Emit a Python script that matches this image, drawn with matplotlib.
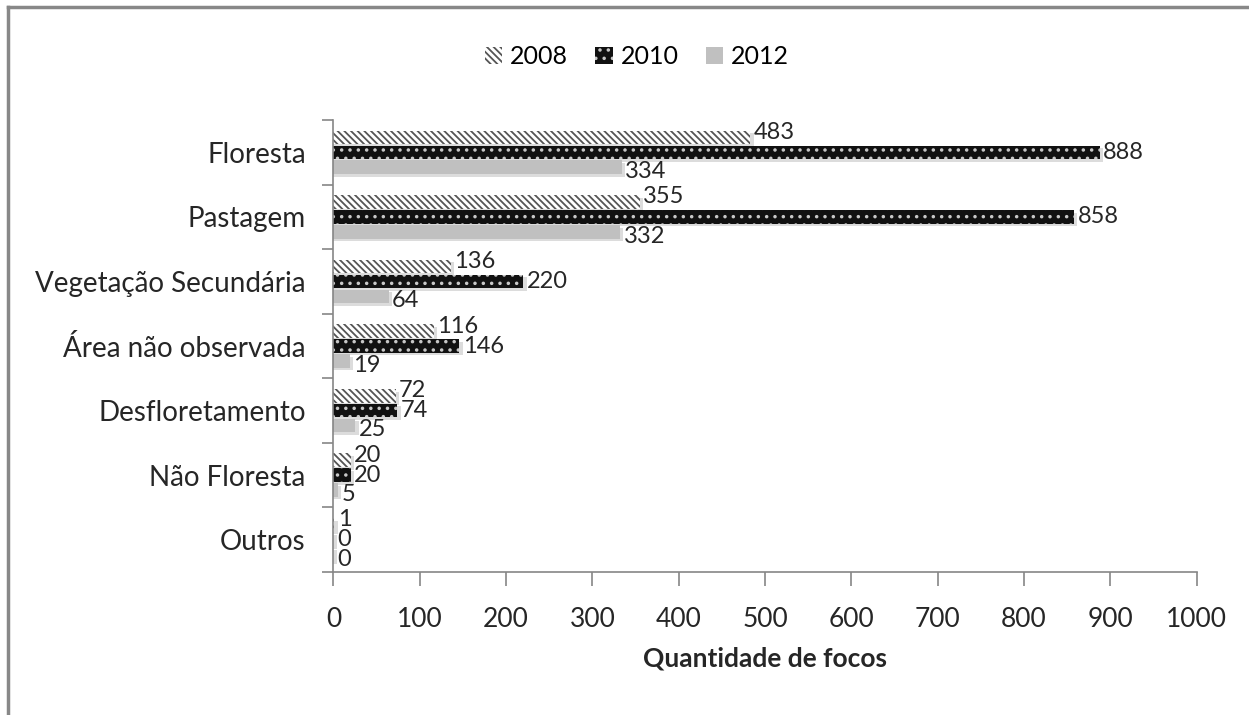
import numpy as np
import matplotlib.pyplot as plt
import matplotlib as mpl
from matplotlib.lines import Line2D

plt.rcParams['font.family'] = ['Lato', 'DejaVu Sans']
plt.rcParams['hatch.linewidth'] = 1.3

# data
categorias = ['Floresta', 'Pastagem', 'Vegetação Secundária', 'Área não observada',
              'Desfloretamento', 'Não Floresta', 'Outros']
anos = ['2008', '2010', '2012']
v2008 = [483, 355, 136, 116, 72, 20, 1]
v2010 = [888, 858, 220, 146, 74, 20, 0]
v2012 = [334, 332, 64, 19, 25, 5, 0]
xticks = [0, 100, 200, 300, 400, 500, 600, 700, 800, 900, 1000]

fig = plt.figure(figsize=(12.49, 7.15), dpi=100)
ax = fig.add_axes([0.267, 0.200, 0.691, 0.632])

y = np.arange(len(categorias))
h = 0.23
series = [v2008, v2010, v2012]
offs = [-h, 0, h]
styles = [
    dict(facecolor='white', edgecolor='#555555', hatch='\\\\\\\\\\', linewidth=0),
    dict(facecolor='#111111', edgecolor='#c8c8c8', hatch='..', linewidth=0),
    dict(facecolor='#c0c0c0', edgecolor='#c0c0c0', linewidth=0),
]
# drop shadows like the original
for vals, off in zip(series, offs):
    ax.barh(y + off + 0.04, np.array(vals) + 4, height=h * 0.92, color='#dcdcdc',
            linewidth=0, zorder=1)
for vals, off, st in zip(series, offs, styles):
    ax.barh(y + off, vals, height=h * 0.92, zorder=2, **st)

# data labels
lab_dy = [-0.08, 0.0, 0.07]
for vals, off, dy in zip(series, offs, lab_dy):
    for i, v in enumerate(vals):
        ax.text(v + 4, i + off + dy, str(v), va='center', ha='left',
                fontsize=17, color='#262626', zorder=3)

ax.set_ylim(len(categorias) - 0.5, -0.5)
ax.set_xlim(0, 1000)
ax.set_yticks(y)
ax.set_yticklabels(categorias, fontsize=20, color='#262626')
ax.set_yticks(np.arange(-0.5, len(categorias)), minor=True)
ax.tick_params(axis='y', which='major', length=0, pad=20)
ax.tick_params(axis='y', which='minor', length=8, color='#868686', width=1.2)
ax.set_xticks(xticks)
ax.set_xticklabels([str(t) for t in xticks], fontsize=19, color='#262626')
ax.tick_params(axis='x', length=10, color='#868686', width=1.2, pad=15)
for s in ['top', 'right']:
    ax.spines[s].set_visible(False)
for s in ['left', 'bottom']:
    ax.spines[s].set_color('#868686')
    ax.spines[s].set_linewidth(1.2)
ax.set_xlabel('Quantidade de focos', fontsize=19, fontweight='bold',
              color='#262626', labelpad=11)

handles = [mpl.patches.Patch(**st) for st in styles]
fig.legend(handles, anos, loc='upper center', bbox_to_anchor=(0.510, 0.968),
           ncol=3, frameon=False, fontsize=18, handlelength=0.7, handleheight=0.7,
           handletextpad=0.3, columnspacing=1.1)

# outer frame (only left and top visible)
fig.add_artist(Line2D([0.0064, 0.0064], [0, 0.99], transform=fig.transFigure,
                      color='#888888', linewidth=2.5))
fig.add_artist(Line2D([0.0064, 1], [0.99, 0.99], transform=fig.transFigure,
                      color='#888888', linewidth=2.5))

fig.savefig('out.png', dpi=100, facecolor='white')
